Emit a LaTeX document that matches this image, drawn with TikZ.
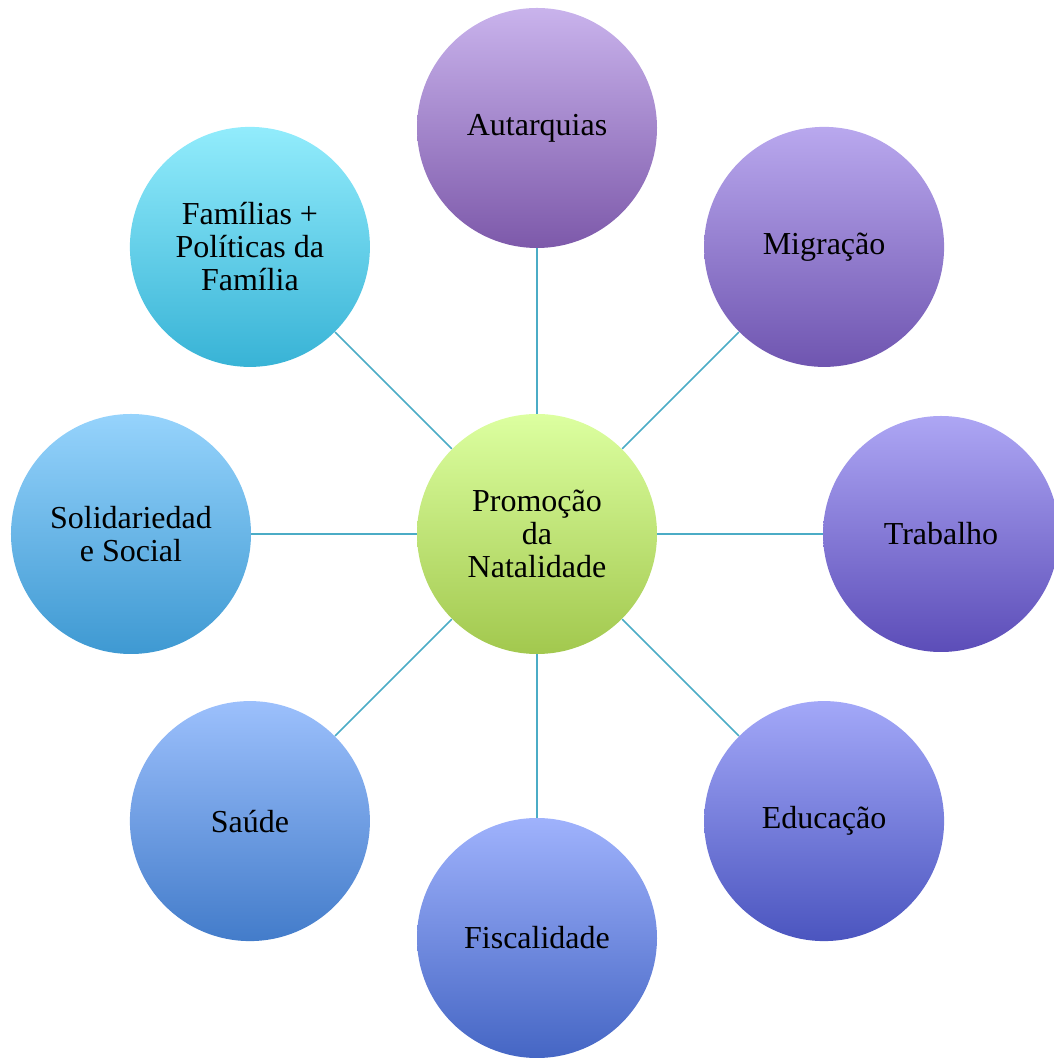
\documentclass[tikz,border=0pt]{standalone}
\usepackage{fontspec}
\setmainfont{Liberation Serif}
\usetikzlibrary{positioning}

\definecolor{spokeblue}{RGB}{75,172,198}

\begin{document}
\begin{tikzpicture}[%
        x = 0.5pt,
        y = 0.5pt,
        tema/.style = {%
          circle,
          minimum size = 120pt,
          inner sep = 0pt,
          align = center,
          font = \fontsize{16}{16.5}\selectfont,
        },
        spoke/.style = {%
          draw = spokeblue,
          line width = 0.75pt,
        },
      ]
      \useasboundingbox (-537,-524) rectangle (516,534);
      \node[tema, top color={rgb,255:red,220;green,255;blue,160}, bottom color={rgb,255:red,162;green,200;blue,78}] (natalidade) at (0,0) {Promoção\\da\\Natalidade};
      \node[tema, top color={rgb,255:red,201;green,179;blue,236}, bottom color={rgb,255:red,125;green,89;blue,170}] (autarquias) at (90:406) {Autarquias};
      \node[tema, top color={rgb,255:red,185;green,168;blue,238}, bottom color={rgb,255:red,111;green,85;blue,176}] (migracao) at (45:406) {Migração};
      \node[tema, minimum size = 118pt, top color={rgb,255:red,173;green,166;blue,244}, bottom color={rgb,255:red,92;green,77;blue,184}] (trabalho) at (0:404) {Trabalho};
      \node[tema, top color={rgb,255:red,163;green,168;blue,248}, bottom color={rgb,255:red,75;green,85;blue,191}] (educacao) at (-45:406) {Educação};
      \node[tema, top color={rgb,255:red,159;green,178;blue,252}, bottom color={rgb,255:red,69;green,102;blue,196}] (fiscalidade) at (-90:404) {Fiscalidade};
      \node[tema, top color={rgb,255:red,156;green,192;blue,252}, bottom color={rgb,255:red,67;green,124;blue,202}] (saude) at (-135:406) {Saúde};
      \node[tema, top color={rgb,255:red,150;green,211;blue,252}, bottom color={rgb,255:red,62;green,153;blue,210}] (solidariedade) at (180:406) {Solidariedad\\e Social};
      \node[tema, top color={rgb,255:red,146;green,236;blue,252}, bottom color={rgb,255:red,56;green,179;blue,214}] (familias) at (135:406) {Famílias +\\Políticas da\\Família};
      \foreach \tema in {autarquias, migracao, trabalho, educacao, fiscalidade, saude, solidariedade, familias}
        \draw[spoke] (natalidade) -- (\tema);
    \end{tikzpicture}
\end{document}
